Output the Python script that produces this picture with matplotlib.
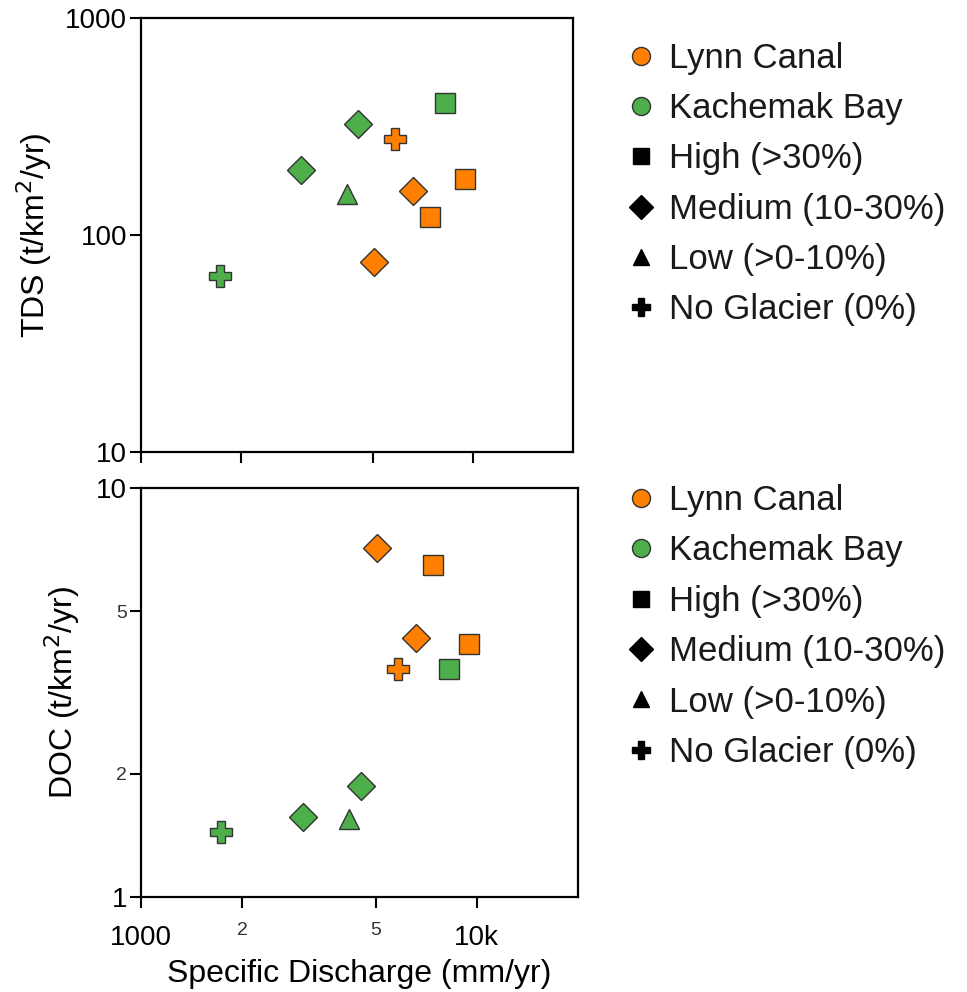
import matplotlib
matplotlib.use("Agg")
import matplotlib.pyplot as plt
from matplotlib.lines import Line2D
from matplotlib.ticker import FixedLocator, FixedFormatter, NullLocator

plt.rcParams["font.family"] = ["Liberation Sans", "DejaVu Sans"]

# Site data: region, glacier class, specific discharge, yields
region = ["Kachemak Bay", "Kachemak Bay", "Kachemak Bay", "Kachemak Bay", "Kachemak Bay",
          "Lynn Canal", "Lynn Canal", "Lynn Canal", "Lynn Canal", "Lynn Canal"]
glacier = ["none", "medium", "low", "medium", "high",
           "none", "medium", "high", "high", "medium"]
discharge = [1730, 3030, 4160, 4510, 8240, 5830, 6600, 9460, 7400, 5040]
tds = [65, 200, 155, 324, 406, 277, 160, 181, 121, 75]
doc = [1.44, 1.57, 1.55, 1.87, 3.61, 3.61, 4.30, 4.16, 6.48, 7.13]

region_colors = {"Lynn Canal": "#ff7f00", "Kachemak Bay": "#4daf4a"}
glacier_markers = {"high": "s", "medium": "D", "low": "^", "none": "P"}
glacier_sizes = {"high": 15, "medium": 14, "low": 15, "none": 16}
legend_labels = ["High (>30%)", "Medium (10-30%)", "Low (>0-10%)", "No Glacier (0%)"]

fig = plt.figure(figsize=(9.67, 9.92), dpi=100)
ax_top = fig.add_axes([0.1458, 0.5444, 0.4467, 0.4375])
ax_bot = fig.add_axes([0.1458, 0.0958, 0.4519, 0.4123])


def draw_points(ax, yvals):
    for r, g, x, y in zip(region, glacier, discharge, yvals):
        ax.plot(x, y, marker=glacier_markers[g], markersize=glacier_sizes[g],
                markerfacecolor=region_colors[r], markeredgecolor="#333333",
                markeredgewidth=1.0, linestyle="none")


def style_axes(ax):
    ax.set_xscale("log")
    ax.set_yscale("log")
    ax.set_xlim(1000, 20000)
    for s in ax.spines.values():
        s.set_linewidth(1.6)
    ax.tick_params(which="both", direction="out", width=1.5, length=8, colors="black")
    ax.tick_params(which="major", labelsize=20)
    ax.tick_params(which="minor", labelsize=14, labelcolor="#333333")
    ax.xaxis.set_major_locator(FixedLocator([1000, 10000]))
    ax.xaxis.set_minor_locator(FixedLocator([2000, 5000]))


draw_points(ax_top, tds)
style_axes(ax_top)
ax_top.set_ylim(10, 1000)
ax_top.yaxis.set_major_locator(FixedLocator([10, 100, 1000]))
ax_top.yaxis.set_major_formatter(FixedFormatter(["10", "100", "1000"]))
ax_top.yaxis.set_minor_locator(NullLocator())
ax_top.tick_params(axis="y", which="major", pad=2)
ax_top.tick_params(axis="x", which="both", labelbottom=False)
ax_top.set_ylabel("TDS (t/km$^2$/yr)", fontsize=23, labelpad=8)

draw_points(ax_bot, doc)
style_axes(ax_bot)
ax_bot.set_ylim(1, 10)
ax_bot.yaxis.set_major_locator(FixedLocator([1, 10]))
ax_bot.yaxis.set_major_formatter(FixedFormatter(["1", "10"]))
ax_bot.yaxis.set_minor_locator(FixedLocator([2, 5]))
ax_bot.yaxis.set_minor_formatter(FixedFormatter(["2", "5"]))
ax_bot.tick_params(axis="y", which="both", pad=2)
ax_bot.xaxis.set_major_formatter(FixedFormatter(["1000", "10k"]))
ax_bot.xaxis.set_minor_formatter(FixedFormatter(["2", "5"]))
ax_bot.tick_params(axis="x", which="major", pad=12)
ax_bot.tick_params(axis="x", which="minor", pad=10)
ax_bot.set_ylabel("DOC (t/km$^2$/yr)", fontsize=23, labelpad=10)
ax_bot.set_xlabel("Specific Discharge (mm/yr)", fontsize=23, labelpad=6)


def legend_handles():
    handles = []
    for name, color in region_colors.items():
        handles.append(Line2D([], [], marker="o", linestyle="none", markersize=13,
                              markerfacecolor=color, markeredgecolor="#333333",
                              markeredgewidth=1.0, label=name))
    for key, label in zip(["high", "medium", "low", "none"], legend_labels):
        size = {"high": 11, "medium": 12, "low": 11, "none": 13}[key]
        handles.append(Line2D([], [], marker=glacier_markers[key], linestyle="none",
                              markersize=size, color="black", label=label))
    return handles


for ax, ytop in [(ax_top, 0.972), (ax_bot, 0.526)]:
    leg = fig.legend(handles=legend_handles(), loc="upper left",
                     bbox_to_anchor=(0.636, ytop), frameon=False, fontsize=25,
                     handlelength=0.7, handletextpad=0.45, labelspacing=0.5,
                     borderaxespad=0)
    for t in leg.get_texts():
        t.set_color("#1a1a1a")

fig.savefig("out.png", dpi=100, facecolor="white")
